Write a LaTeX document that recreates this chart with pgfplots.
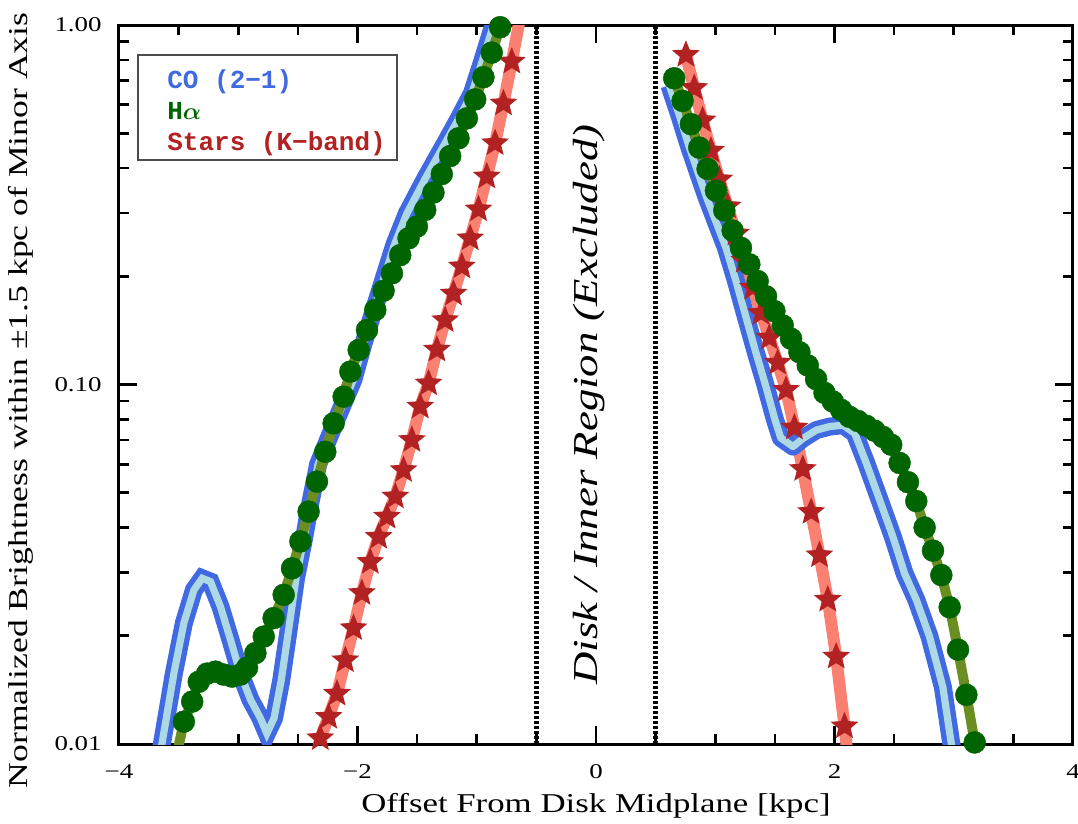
\documentclass[border=0pt]{standalone}
\usepackage{fontspec}
\usepackage{pgfplots}
\usepackage{pgfplotstable}
\pgfplotsset{compat=1.18}
\newfontfamily\tickfont[FakeStretch=1.28]{Liberation Serif}
\newfontfamily\labelfont[FakeStretch=1.28]{Liberation Serif}
\newfontfamily\ylabelfont[FakeStretch=1.31]{Liberation Serif}
\newfontfamily\legfont{Liberation Mono}
\definecolor{coblue}{RGB}{65,105,225}
\definecolor{colight}{RGB}{173,216,230}
\definecolor{hagreen}{RGB}{0,100,0}
\definecolor{haline}{RGB}{107,142,35}
\definecolor{stred}{RGB}{178,34,34}
\definecolor{stline}{RGB}{250,128,114}
\pgfdeclareplotmark{fstar}{%
  \pgfpathmoveto{\pgfqpointpolar{90}{\pgfplotmarksize}}%
  \pgfpathlineto{\pgfqpointpolar{126}{0.44\pgfplotmarksize}}%
  \pgfpathlineto{\pgfqpointpolar{162}{\pgfplotmarksize}}%
  \pgfpathlineto{\pgfqpointpolar{198}{0.44\pgfplotmarksize}}%
  \pgfpathlineto{\pgfqpointpolar{234}{\pgfplotmarksize}}%
  \pgfpathlineto{\pgfqpointpolar{270}{0.44\pgfplotmarksize}}%
  \pgfpathlineto{\pgfqpointpolar{306}{\pgfplotmarksize}}%
  \pgfpathlineto{\pgfqpointpolar{342}{0.44\pgfplotmarksize}}%
  \pgfpathlineto{\pgfqpointpolar{18}{\pgfplotmarksize}}%
  \pgfpathlineto{\pgfqpointpolar{54}{0.44\pgfplotmarksize}}%
  \pgfpathclose
  \pgfusepathqfill
}
\pgfplotstableread{
x y
-3.67 0.0090
-3.64 0.0100
-3.54 0.0157
-3.456 0.0217
-3.372 0.0268
-3.302 0.0289
-3.233 0.0283
-3.149 0.0241
-3.065 0.0195
-2.982 0.0157
-2.898 0.0133
-2.814 0.0118
-2.760 0.0107
-2.700 0.0118
-2.640 0.0150
-2.580 0.0205
-2.515 0.0290
-2.451 0.0369
-2.40 0.046
-2.33 0.060
-2.19 0.078
-2.035 0.103
-1.95 0.130
-1.795 0.190
-1.69 0.245
-1.586 0.299
-1.43 0.375
-1.265 0.469
-1.15 0.55
-1.04 0.646
-0.95 0.80
-0.86 1.00
-0.80 1.15
}\coleft
\pgfplotstableread{
x y
0.615 0.68
0.70 0.56
0.78 0.46
0.86 0.385
0.93 0.33
1.00 0.287
1.09 0.240
1.17 0.196
1.26 0.153
1.34 0.123
1.42 0.100
1.50 0.080
1.55 0.071
1.652 0.0672
1.736 0.0708
1.848 0.0747
1.96 0.0764
2.072 0.0771
2.17 0.0731
2.267 0.0604
2.379 0.0477
2.49 0.0377
2.588 0.0298
2.686 0.0252
2.797 0.0199
2.909 0.0144
2.979 0.01005
3.00 0.0092
}\coright
\pgfplotstableread{
x y
-3.52 0.0092
-3.456 0.01154
-3.386 0.01312
-3.331 0.0149
-3.261 0.0157
-3.191 0.0159
-3.122 0.0156
-3.052 0.0154
-2.982 0.0156
-2.926 0.0163
-2.856 0.0179
-2.786 0.0199
-2.703 0.0224
-2.619 0.0260
-2.549 0.0308
-2.479 0.0366
-2.410 0.0443
-2.340 0.0537
-2.270 0.0650
-2.200 0.078
-2.116 0.0925
-2.060 0.1086
-1.990 0.1247
-1.920 0.1418
-1.851 0.1612
-1.781 0.1824
-1.711 0.2038
-1.642 0.229
-1.572 0.255
-1.502 0.275
-1.432 0.306
-1.363 0.342
-1.293 0.385
-1.223 0.432
-1.153 0.484
-1.083 0.550
-1.013 0.621
-0.944 0.716
-0.874 0.838
-0.804 0.986
-0.734 1.15
}\haleft
\pgfplotstableread{
x y
0.656 0.711
0.726 0.615
0.796 0.530
0.866 0.456
0.936 0.398
1.006 0.346
1.076 0.305
1.146 0.268
1.216 0.240
1.286 0.216
1.356 0.194
1.426 0.176
1.496 0.160
1.566 0.146
1.636 0.134
1.706 0.123
1.776 0.113
1.846 0.1035
1.916 0.0948
1.986 0.0897
2.056 0.0850
2.126 0.0813
2.196 0.0792
2.266 0.0768
2.336 0.0744
2.406 0.0715
2.476 0.0680
2.546 0.0605
2.616 0.0535
2.686 0.0474
2.756 0.0400
2.826 0.0345
2.896 0.0295
2.966 0.0240
3.036 0.0183
3.106 0.0137
3.176 0.0101
3.21 0.0085
}\haright
\pgfplotstableread{
x y
-2.34 0.0093
-2.312 0.01038
-2.242 0.0119
-2.172 0.0138
-2.102 0.0171
-2.033 0.0210
-1.963 0.0263
-1.893 0.0321
-1.823 0.0377
-1.753 0.0429
-1.683 0.0488
-1.614 0.0578
-1.544 0.0701
-1.474 0.0868
-1.404 0.1007
-1.334 0.125
-1.265 0.151
-1.195 0.179
-1.125 0.213
-1.055 0.255
-0.985 0.307
-0.916 0.379
-0.846 0.469
-0.776 0.605
-0.706 0.791
-0.636 1.05
}\stleft
\pgfplotstableread{
x y
0.754 0.826
0.824 0.668
0.894 0.543
0.964 0.447
1.034 0.372
1.104 0.313
1.174 0.263
1.244 0.221
1.314 0.186
1.384 0.158
1.454 0.135
1.524 0.115
1.594 0.0966
1.664 0.0759
1.734 0.0582
1.804 0.0442
1.874 0.0335
1.944 0.0252
2.014 0.0175
2.084 0.0112
2.115 0.0090
}\stright
\begin{document}
\begin{tikzpicture}
\begin{axis}[
  width=477pt, height=359.5pt, scale only axis,
  xmin=-4, xmax=4, ymin=0.01, ymax=1, ymode=log,
  xtick={-4,-2,0,2,4}, xticklabels={−4,−2,0,2,4},
  minor x tick num=3,
  ytick={0.01,0.1,1}, yticklabels={0.01,0.10,1.00},
  tick align=inside,
  axis line style={line width=1.5pt},
  tick style={black, line width=1.3pt},
  major tick length=9pt, minor tick length=5pt,
  tick label style={font=\fontsize{10.5}{12}\tickfont, inner sep=0pt},
  xticklabel shift=10pt, yticklabel shift=8.5pt,
  xlabel={Offset From Disk Midplane [kpc]},
  ylabel={Normalized Brightness within ±1.5 kpc of Minor Axis},
  xlabel style={font=\fontsize{13.6}{16}\labelfont, at={(axis description cs:0.5,-0.0946)}, anchor=base},
  ylabel style={font=\fontsize{13.6}{16}\ylabelfont, at={(axis description cs:-0.0954,0.478)}, anchor=base},
]
% vertical dotted lines
\addplot[black, line width=2.2pt, dash pattern=on 1.5pt off 1pt] coordinates {(-0.5,0.01) (-0.5,1)};
\addplot[black, line width=2.2pt, dash pattern=on 1.5pt off 1pt] coordinates {(0.5,0.01) (0.5,1)};
% stars lines
\addplot[stline, line width=6pt, line join=round] table {\stleft};
\addplot[stline, line width=6pt, line join=round] table {\stright};
% CO
\addplot[coblue, line width=9pt, line join=miter, miter limit=3] table {\coleft};
\addplot[colight, line width=3.6pt, line join=miter, miter limit=3] table {\coleft};
\addplot[coblue, line width=9pt, line join=round] table {\coright};
\addplot[colight, line width=3.6pt, line join=round] table {\coright};
% star marks
\addplot[only marks, mark=fstar, mark size=7.3pt, mark options={fill=stred, draw=none},
  skip coords between index={0}{1}, skip coords between index={25}{26}] table {\stleft};
\addplot[only marks, mark=fstar, mark size=7.3pt, mark options={fill=stred, draw=none},
  skip coords between index={20}{21}] table {\stright};
% Halpha
\addplot[haline, line width=5pt, line join=round] table {\haleft};
\addplot[haline, line width=5pt, line join=round] table {\haright};
\addplot[only marks, mark=*, mark size=5.5pt, mark options={fill=hagreen, draw=hagreen, line width=0.2pt},
  skip coords between index={0}{1}, skip coords between index={40}{41}] table {\haleft};
\addplot[only marks, mark=*, mark size=5.5pt, mark options={fill=hagreen, draw=hagreen, line width=0.2pt},
  skip coords between index={37}{38}] table {\haright};
% excluded region text
\node[rotate=90, anchor=center, font=\fontsize{17.5}{20}\labelfont\itshape] at (axis cs:-0.06,0.088) {Disk / Inner Region (Excluded)};
% legend
\draw[black!70, line width=0.6pt] (rel axis cs:0.0199,0.9583) rectangle (rel axis cs:0.2914,0.8122);
\node[anchor=north west, align=left, inner sep=0pt, font=\fontsize{13}{15.5}\legfont\bfseries] at (rel axis cs:0.0503,0.938)
  {\textcolor{coblue}{CO (2−1)}\\\textcolor{hagreen}{H{\boldmath$\alpha$}}\\\textcolor{stred}{Stars (K−band)}};
\end{axis}
\pgfresetboundingbox
\path[use as bounding box] (current axis.south west) ++(-59.5pt,-40pt) rectangle ++(539pt,412pt);
\end{tikzpicture}
\end{document}
